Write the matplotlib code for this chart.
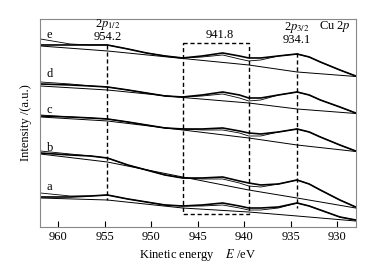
"""
Cu 2p XPS spectra, samples a-e, with fit and Shirley-type background.
"""
import numpy as np
import matplotlib; matplotlib.use("Agg"); import matplotlib.pyplot as plt

plt.rcParams["font.family"] = ["Liberation Serif", "DejaVu Serif"]
plt.rcParams["mathtext.fontset"] = "stix"

# energy grid of the measured curves (eV)
E = [961.9, 958.7, 956.5, 954.7, 952.5, 950.5, 948.5, 946.6, 944.5, 942.3,
     940.5, 939.5, 938.2, 936.3, 934.3, 933.0, 931.8, 929.7, 928.0]
E_BG = [961.9, 954.7, 946.6, 939.5, 934.3, 928.0]

# measured (thick), fitted (thin) and background, intensity in a.u.
e_meas = [182, 182, 182, 182, 178, 174, 171, 169, 171, 174, 171, 169, 169, 171, 173, 170, 165, 157, 151]
e_fit  = [188, 183, 182, 182, 178, 174, 171, 169, 170, 172, 168, 166, 167, 171, 173, 170, 165, 157, 151]
e_bg   = [181, 176, 168.5, 162, 155, 150.5]
d_meas = [143, 142, 141, 140, 137, 134, 131, 130, 132, 135, 132, 129, 129, 132, 135, 132, 127, 120, 114]
d_fit  = [145, 143, 141, 140, 137, 134, 131, 130, 131, 133, 129, 126, 127, 132, 135, 132, 127, 120, 114]
d_bg   = [141, 137, 129.5, 124, 118, 113.5]
c_meas = [111, 110, 109, 108, 105, 102, 99, 98, 98, 99, 96, 94, 93, 95, 98, 95, 90, 82, 76]
c_fit  = [112, 110, 109, 108, 105, 102, 99, 98, 97, 97, 94, 91, 91, 95, 98, 95, 90, 82, 76]
c_bg   = [110, 106, 97, 89, 82, 75.5]
b_meas = [74, 72, 71, 69, 62, 57, 52, 49, 49, 50, 46, 44, 42, 43, 47, 43, 37, 27, 20]
b_fit  = [76, 73, 71, 69, 62, 57, 52, 49, 48, 48, 44, 41, 40, 43, 47, 43, 37, 27, 20]
b_bg   = [73, 65, 50, 37, 29, 19]
a_meas = [30, 30, 31, 32, 28, 25, 22, 21, 22, 24, 21, 19, 19, 20, 24, 21, 17, 10, 7]
a_fit  = [34, 31, 31, 32, 28, 25, 22, 21, 21, 22, 19, 17, 17, 19, 24, 21, 17, 10, 7]
a_bg   = [29, 27, 19, 15, 11, 6]

series = {"e": (e_meas, e_fit, e_bg, 192), "d": (d_meas, d_fit, d_bg, 153),
          "c": (c_meas, c_fit, c_bg, 117), "b": (b_meas, b_fit, b_bg, 79),
          "a": (a_meas, a_fit, a_bg, 40)}

P12, SAT_LO, SAT_HI, P32 = 954.7, 946.6, 939.5, 934.3

fig = plt.figure(figsize=(3.82, 2.65), dpi=100)
ax = fig.add_axes([0.1047, 0.1434, 0.8273, 0.785])

for name, (meas, fit, bg, ylab) in series.items():
    ax.plot(E, meas, color="black", lw=1.2)
    ax.plot(E, fit, color="black", lw=0.6)
    ax.plot(E_BG, bg, color="black", lw=0.7)
    ax.text(961.2, ylab, name, fontsize=9, ha="left", va="center")

dash = dict(color="black", lw=1.0, ls=(0, (3, 2)))
ax.plot([P12, P12], [182, 27], **dash)
ax.plot([P32, P32], [174, 19], **dash)
ax.plot([SAT_LO, SAT_HI, SAT_HI, SAT_LO, SAT_LO], [184, 184, 13, 13, 184], **dash)

ax.text(P12, 202, r"2$p_{1/2}$", fontsize=9, ha="center", va="center")
ax.text(P12, 190, "954.2", fontsize=9, ha="center", va="center")
ax.text(942.6, 192, "941.8", fontsize=9, ha="center", va="center")
ax.text(P32, 199, r"2$p_{3/2}$", fontsize=9, ha="center", va="center")
ax.text(P32, 187, "934.1", fontsize=9, ha="center", va="center")
ax.text(930.2, 200, r"Cu 2$p$", fontsize=9, ha="center", va="center")

ax.set_xlim(961.94, 927.96)
ax.set_ylim(0, 208)
ax.set_xticks([960, 955, 950, 945, 940, 935, 930])
ax.set_yticks([])
ax.tick_params(axis="x", direction="in", length=4, width=0.8, labelsize=9, pad=3)
for s in ax.spines.values():
    s.set_color("#888888"); s.set_linewidth(0.8)
ax.set_xlabel(r"Kinetic energy    $E$ /eV", fontsize=9, labelpad=3)
ax.set_ylabel("Intensity /(a.u.)", fontsize=9, labelpad=6)

fig.savefig("out.png", dpi=100)
